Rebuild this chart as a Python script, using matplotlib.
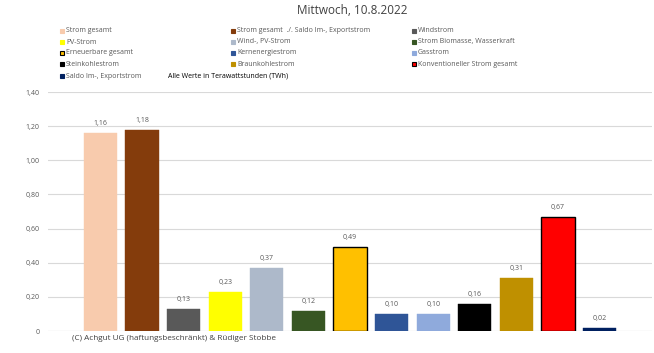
import matplotlib
matplotlib.use("Agg")
from matplotlib import pyplot as plt
from matplotlib.patches import Rectangle

# data
labels = ['Strom gesamt', 'Strom gesamt  ./. Saldo Im-, Exportstrom', 'Windstrom',
          'PV-Strom', 'Wind-, PV-Strom', 'Strom Biomasse, Wasserkraft',
          'Erneuerbare gesamt', 'Kernenergiestrom', 'Gasstrom',
          'Steinkohlestrom', 'Braunkohlestrom', 'Konventioneller Strom gesamt',
          'Saldo Im-, Exportstrom']
values = [1.16, 1.18, 0.13, 0.23, 0.37, 0.12, 0.49, 0.10, 0.10, 0.16, 0.31, 0.67, 0.02]
colors = ['#F8CBAD', '#843C0C', '#595959', '#FFFF00', '#ADB9CA', '#375623',
          '#FFC000', '#2F5597', '#8FAADC', '#000000', '#BF9000', '#FF0000', '#002060']
edges = [None] * 13
edges[6] = 'black'
edges[11] = 'black'
yticks = [0, 0.2, 0.4, 0.6, 0.8, 1.0, 1.2, 1.4]
ytick_labels = ['0', '0,20', '0,40', '0,60', '0,80', '1,00', '1,20', '1,40']

plt.rcParams['font.family'] = ['Open Sans', 'DejaVu Sans']
txt = '#595959'

fig = plt.figure(figsize=(6.54, 3.53), dpi=100)
ax = fig.add_axes([48 / 654, 1 - 331 / 353, 604 / 654, 239 / 353])

x = list(range(len(values)))
for i in x:
    ec = edges[i] if edges[i] else colors[i]
    ax.bar(i, values[i], width=0.8, color=colors[i], edgecolor=ec,
           linewidth=1.0 if edges[i] else 0.3, zorder=3)
    ax.text(i, values[i] + 0.035, f'{values[i]:.2f}'.replace('.', ','),
            ha='center', va='bottom', fontsize=5, color=txt)

ax.set_xlim(-1.26, 13.26)
ax.set_ylim(0, 1.4)
ax.set_yticks(yticks)
ax.set_yticklabels(ytick_labels, fontsize=5, color=txt)
ax.set_xticks([])
ax.grid(axis='y', color='#D9D9D9', linewidth=0.8, zorder=0)
for s in ax.spines.values():
    s.set_visible(False)
ax.tick_params(axis='y', length=0, pad=6)
ax.axhline(0, color='#D9D9D9', linewidth=0.8, zorder=1)

fig.text(352 / 654, 1 - 11 / 353, 'Mittwoch, 10.8.2022', ha='center', va='center',
         fontsize=8.5, color='#404040')

# legend, row-major like Excel
col_x = [62, 233, 414]
row_y = [31, 42, 53, 64, 76]
for i, lab in enumerate(labels):
    cx = col_x[i % 3]
    cy = row_y[i // 3]
    ec = edges[i] if edges[i] else colors[i]
    fig.patches.append(Rectangle(((cx - 2.2) / 654, 1 - (cy + 2.2) / 353), 4.4 / 654, 4.4 / 353,
                                 facecolor=colors[i], edgecolor=ec, linewidth=0.8,
                                 transform=fig.transFigure, figure=fig))
    fig.text((cx + 4) / 654, 1 - cy / 353, lab, ha='left', va='center',
             fontsize=5, color=txt)
fig.text(168 / 654, 1 - 76 / 353, 'Alle Werte in Terawattstunden (TWh)', ha='left',
         va='center', fontsize=5, color='black')

fig.text(72 / 654, 1 - 338 / 353, '(C) Achgut UG (haftungsbeschränkt) & Rüdiger Stobbe',
         ha='left', va='center', fontsize=5.9, color='#404040',
         bbox=dict(facecolor='white', edgecolor='none', pad=1.5))

fig.savefig('out.png', dpi=100)
